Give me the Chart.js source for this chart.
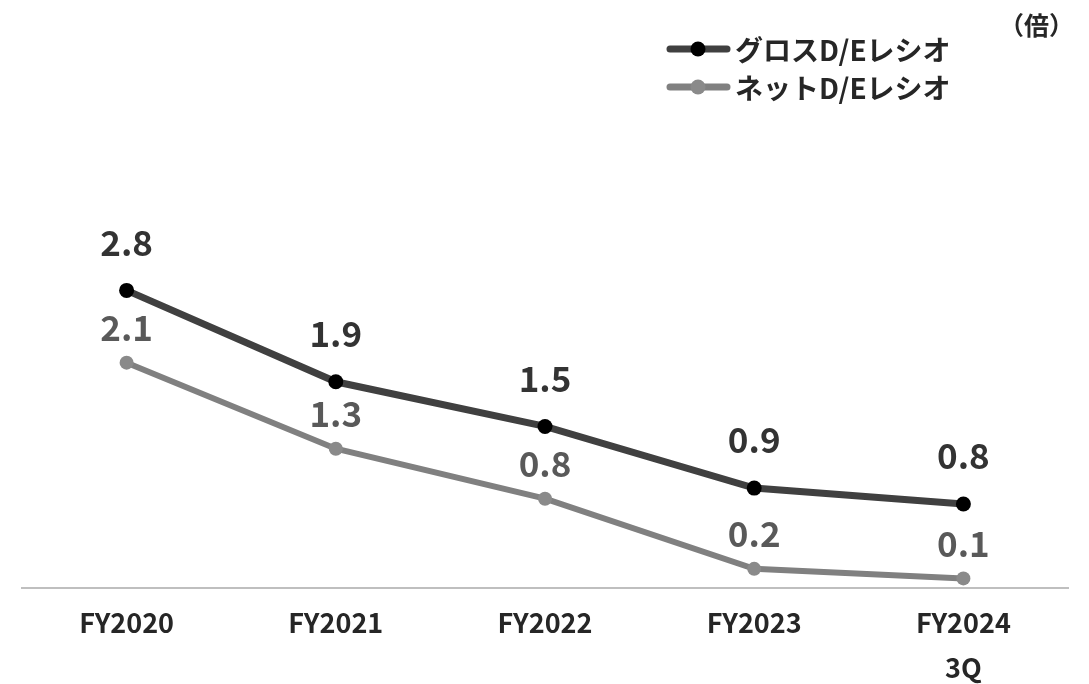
<!DOCTYPE html>
<html>
<head>
<meta charset="utf-8">
<script src="https://cdn.jsdelivr.net/npm/chart.js@4"></script>
<style>
  html, body { margin: 0; padding: 0; background: #fff; overflow: hidden; }
  #wrap { width: 1089px; height: 684px; position: relative; }
</style>
</head>
<body>
<div id="wrap"><canvas id="graficaDE"></canvas></div>
<script>
// Datos
var categorias = ['FY2020', 'FY2021', 'FY2022', 'FY2023', ['FY2024', '3Q']];
var nombresSeries = ['グロスD/Eレシオ', 'ネットD/Eレシオ'];
var grosDE = [2.8, 1.94, 1.52, 0.94, 0.79];
var netaDE = [2.12, 1.31, 0.84, 0.18, 0.09];
var unidad = '（倍）';

var FUENTE = '"Noto Sans CJK JP", "Noto Sans", sans-serif';

// Etiquetas de valor encima de cada punto + leyenda propia
var pluginEtiquetas = {
    id: 'etiquetas',
    afterDatasetsDraw: function (chart) {
        var ctx = chart.ctx;
        ctx.save();
        ctx.font = 'bold 35px ' + FUENTE;
        ctx.textAlign = 'center';
        ctx.textBaseline = 'middle';
        chart.data.datasets.forEach(function (ds, i) {
            var meta = chart.getDatasetMeta(i);
            ctx.fillStyle = ds.etiquetaColor;
            meta.data.forEach(function (pt, j) {
                ctx.fillText(ds.data[j].toFixed(1), pt.x, pt.y - ds.etiquetaOffset);
            });
        });

        // leyenda
        ctx.font = 'bold 28px ' + FUENTE;
        ctx.textAlign = 'left';
        chart.data.datasets.forEach(function (ds, i) {
            var y = 49 + i * 38;
            ctx.strokeStyle = ds.borderColor;
            ctx.lineWidth = 7;
            ctx.lineCap = 'round';
            ctx.beginPath();
            ctx.moveTo(670, y);
            ctx.lineTo(727, y);
            ctx.stroke();
            ctx.fillStyle = ds.pointBackgroundColor;
            ctx.beginPath();
            ctx.arc(698, y, 7.5, 0, Math.PI * 2);
            ctx.fill();
            ctx.fillStyle = '#262626';
            ctx.fillText(ds.label, 735, y + 1);
        });

        ctx.font = 'bold 25px ' + FUENTE;
        ctx.textAlign = 'right';
        ctx.fillStyle = '#262626';
        ctx.fillText(unidad, 1074, 25);
        ctx.restore();
    }
};

var ctxDE = document.getElementById('graficaDE').getContext('2d');
var graficaDE = new Chart(ctxDE, {
    type: 'line',
    data: {
        labels: categorias,
        datasets: [{
            label: nombresSeries[0],
            data: grosDE,
            borderColor: '#404040',
            backgroundColor: '#000000',
            pointBackgroundColor: '#000000',
            pointBorderColor: '#000000',
            borderWidth: 7,
            pointRadius: 7.5,
            pointBorderWidth: 0,
            etiquetaColor: '#333333',
            etiquetaOffset: 48
        }, {
            label: nombresSeries[1],
            data: netaDE,
            borderColor: '#808080',
            backgroundColor: '#8a8a8a',
            pointBackgroundColor: '#8a8a8a',
            pointBorderColor: '#8a8a8a',
            borderWidth: 6,
            pointRadius: 7,
            pointBorderWidth: 0,
            etiquetaColor: '#595959',
            etiquetaOffset: 35
        }]
    },
    options: {
        responsive: true,
        maintainAspectRatio: false,
        animation: false,
        layout: {
            padding: { top: 216, left: 22, right: 21, bottom: -18 }
        },
        plugins: {
            legend: { display: false },
            tooltip: { enabled: false }
        },
        scales: {
            x: {
                offset: true,
                grid: { display: false, drawTicks: false },
                border: { display: true, color: '#bfbfbf', width: 2 },
                ticks: {
                    color: '#262626',
                    padding: 12,
                    maxRotation: 0,
                    autoSkip: false,
                    font: { family: FUENTE, size: 27, weight: 'bold', lineHeight: 1.667 }
                }
            },
            y: {
                display: false,
                min: 0,
                max: 3.5
            }
        }
    },
    plugins: [pluginEtiquetas]
});
</script>
</body>
</html>
